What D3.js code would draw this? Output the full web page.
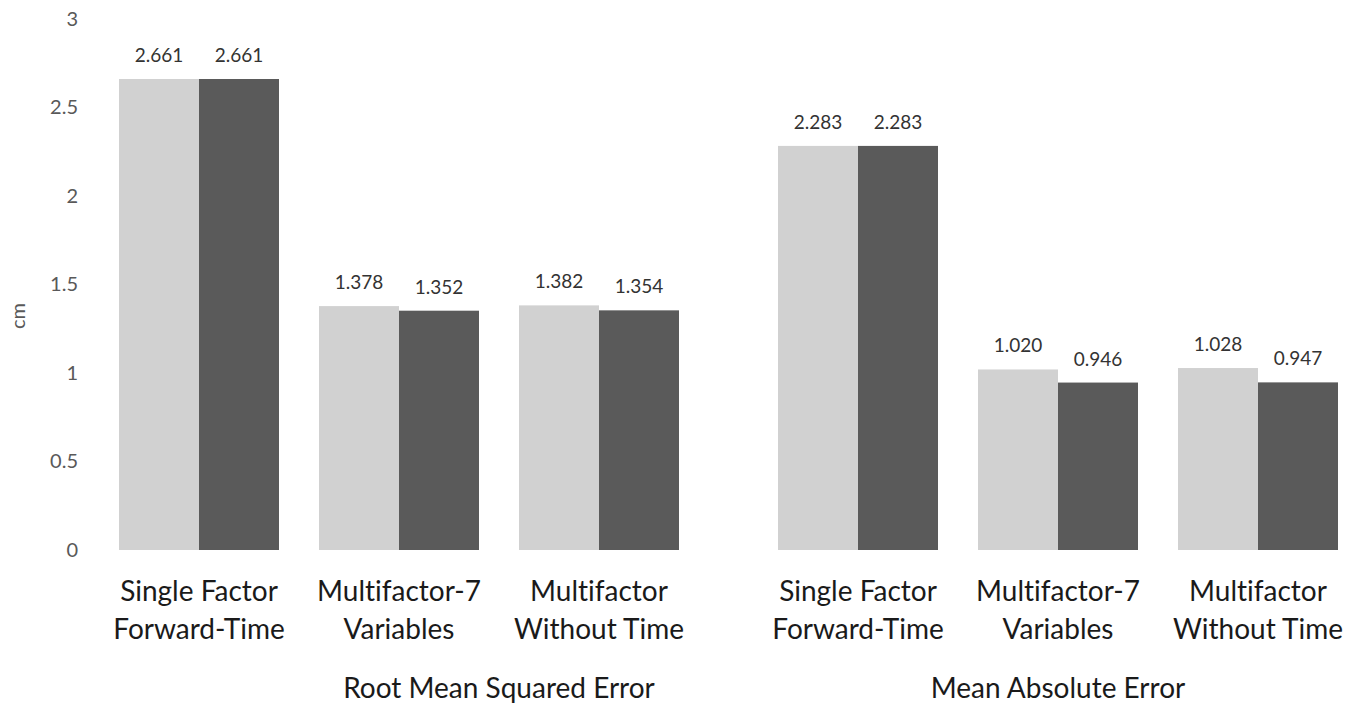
<!DOCTYPE html>
<html>
<head>
<meta charset="utf-8">
<script src="https://cdn.jsdelivr.net/npm/d3@7"></script>
<style>
  html, body { margin: 0; padding: 0; background: #fff; }
  svg { display: block; }
  text { font-variant-ligatures: none; font-feature-settings: "liga" 0; }
</style>
</head>
<body>
<svg id="chart" width="1365" height="706"></svg>
<script>
// Error metrics (cm) for three model variants, two series per variant
const groups = ["Root Mean Squared Error", "Mean Absolute Error"];
const categories = ["Single Factor\nForward-Time", "Multifactor-7\nVariables", "Multifactor\nWithout Time"];
const seriesNames = ["series1", "series2"];
const rmseLight = [2.661, 1.378, 1.382];
const rmseDark  = [2.661, 1.352, 1.354];
const maeLight  = [2.283, 1.020, 1.028];
const maeDark   = [2.283, 0.946, 0.947];
const yTicks = [0, 0.5, 1, 1.5, 2, 2.5, 3];

const groupValues = [
  [rmseLight, rmseDark],
  [maeLight, maeDark]
];

const colors = ["#d1d1d1", "#5a5a5a"];
const font = "Lato, 'Open Sans', sans-serif";

const svg = d3.select("#chart");

const y = d3.scaleLinear().domain([0, 3]).range([550, 19]);

// Y axis: labels only, no domain line or ticks
const yAxis = svg.append("g")
  .attr("transform", "translate(80,0)")
  .call(d3.axisLeft(y).tickValues(yTicks).tickSize(0).tickPadding(2).tickFormat(d3.format("")));
yAxis.select(".domain").remove();
yAxis.selectAll("text")
  .attr("fill", "#595959")
  .style("font-family", font)
  .style("font-size", "20px");

svg.append("text")
  .attr("transform", "translate(25,316) rotate(-90)")
  .attr("text-anchor", "middle")
  .attr("fill", "#595959")
  .style("font-family", font)
  .style("font-size", "20px")
  .text("cm");

// One band scale per metric group
const groupRanges = [[99, 699], [758, 1358]];
const titleOffsets = [100, 0];

groups.forEach((g, gi) => {
  const x = d3.scaleBand().domain(categories).range(groupRanges[gi])
    .paddingInner(0.2).paddingOuter(0.1);
  const xs = d3.scaleBand().domain(seriesNames).range([0, x.bandwidth()]).padding(0);

  const rows = [];
  categories.forEach((c, ci) => {
    seriesNames.forEach((s, si) => {
      rows.push({ cat: c, series: s, si: si, value: groupValues[gi][si][ci] });
    });
  });

  const gEl = svg.append("g");

  gEl.selectAll("rect")
    .data(rows)
    .join("rect")
    .attr("x", d => x(d.cat) + xs(d.series))
    .attr("y", d => y(d.value))
    .attr("width", xs.bandwidth())
    .attr("height", d => y(0) - y(d.value))
    .attr("fill", d => colors[d.si]);

  gEl.selectAll("text.val")
    .data(rows)
    .join("text")
    .attr("class", "val")
    .attr("x", d => x(d.cat) + xs(d.series) + xs.bandwidth() / 2)
    .attr("y", d => y(d.value) - 17)
    .attr("text-anchor", "middle")
    .attr("fill", "#333")
    .style("font-family", font)
    .style("font-size", "19px")
    .text(d => d3.format(".3f")(d.value));

  // Category labels (two lines each)
  const catG = gEl.selectAll("text.cat")
    .data(categories)
    .join("text")
    .attr("class", "cat")
    .attr("text-anchor", "middle")
    .attr("fill", "#1a1a1a")
    .style("font-family", font)
    .style("font-size", "28px");
  catG.selectAll("tspan")
    .data(d => d.split("\n").map(line => ({ line, cat: d })))
    .join("tspan")
    .attr("x", d => x(d.cat) + x.bandwidth() / 2)
    .attr("y", (d, i) => 601 + i * 38)
    .text(d => d.line);

  const [r0, r1] = groupRanges[gi];
  gEl.append("text")
    .attr("x", (r0 + r1) / 2 + titleOffsets[gi])
    .attr("y", 698)
    .attr("text-anchor", "middle")
    .attr("fill", "#1a1a1a")
    .style("font-family", font)
    .style("font-size", "28px")
    .text(g);
});
</script>
</body>
</html>
